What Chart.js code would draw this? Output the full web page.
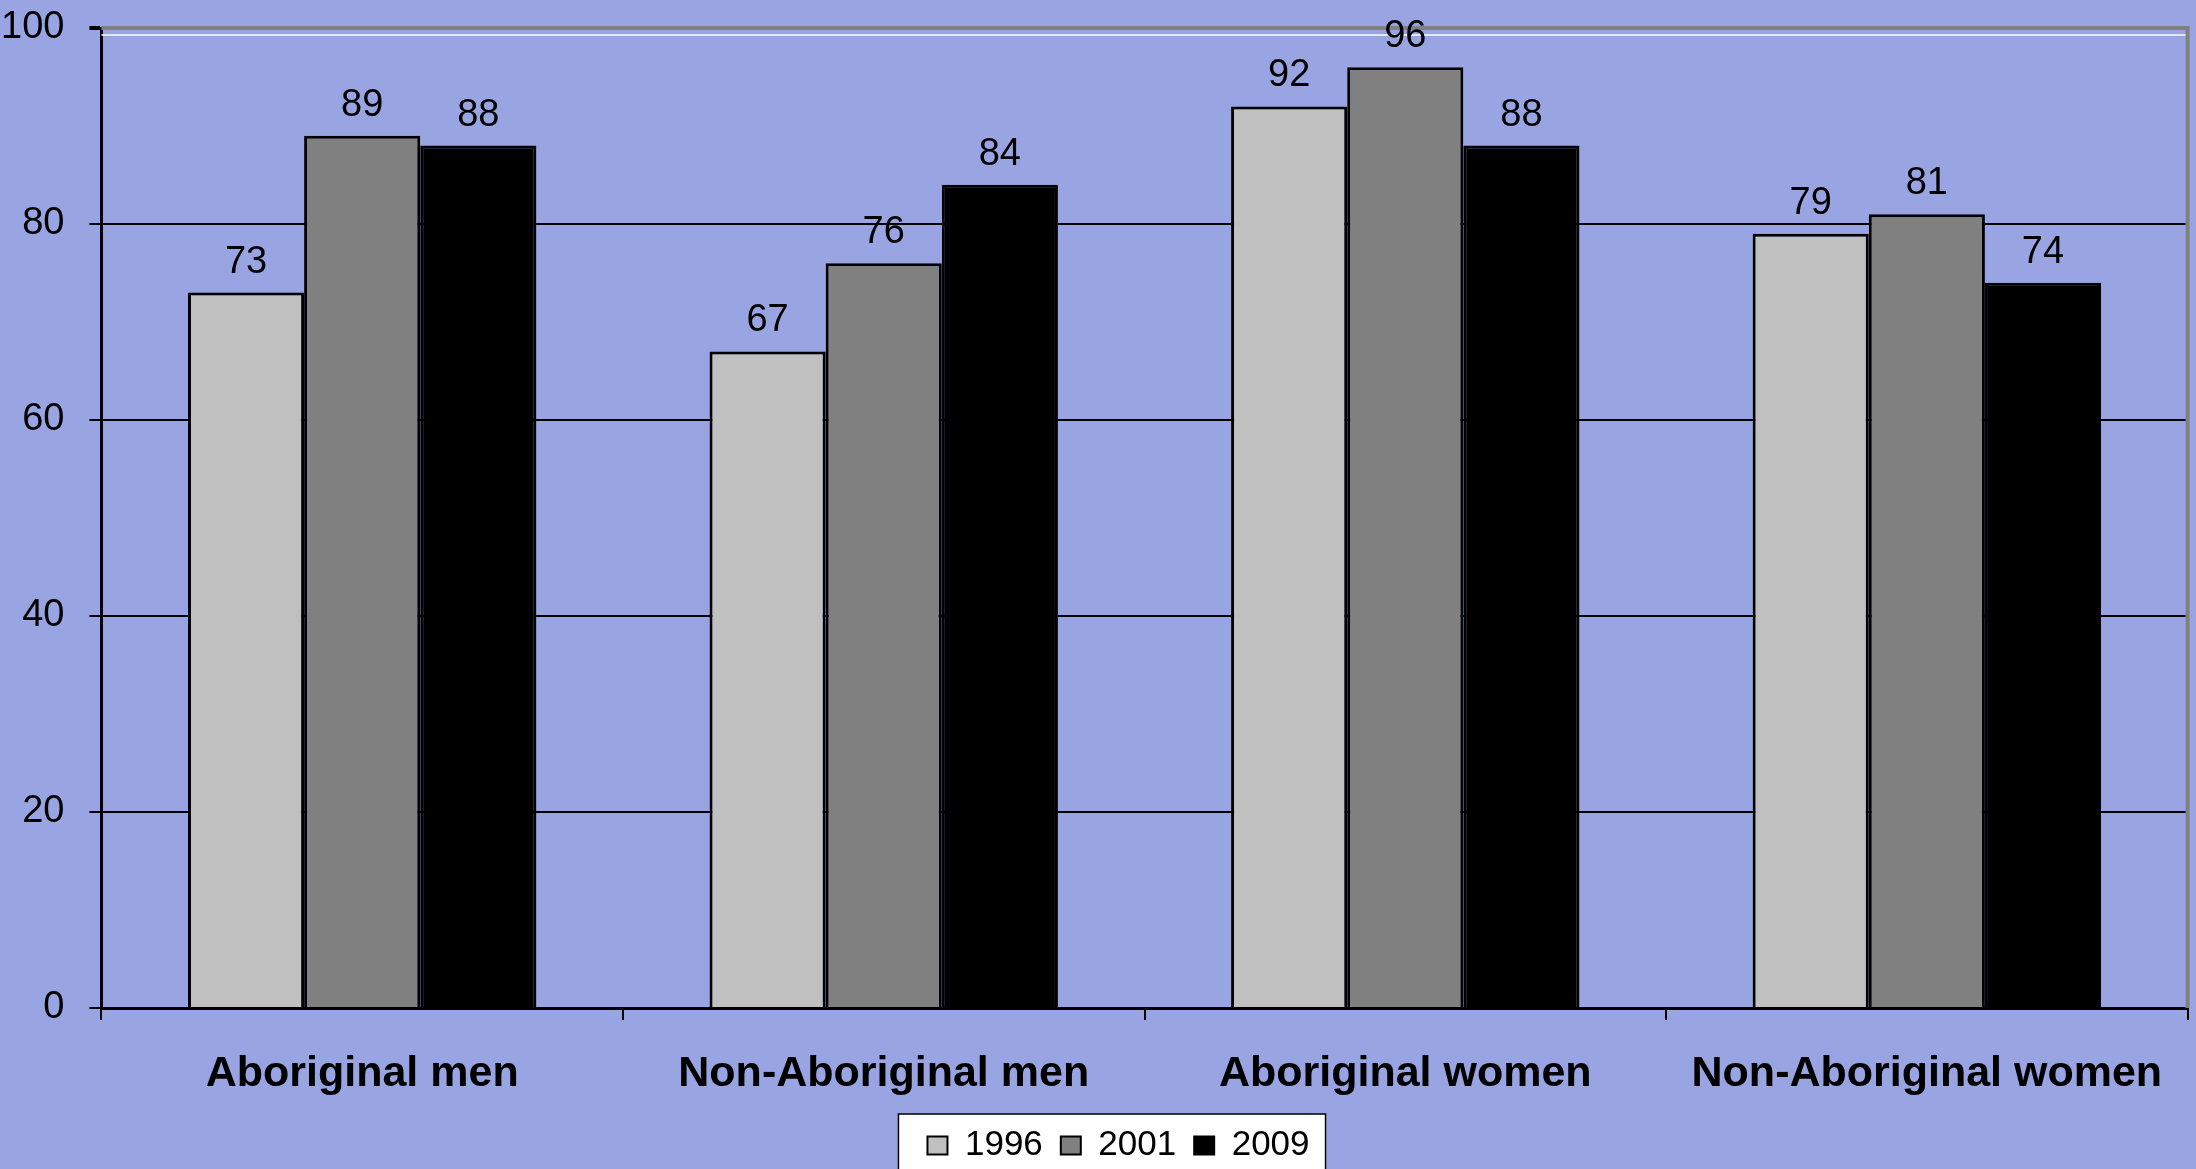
<!DOCTYPE html>
<html>
<head>
<meta charset="utf-8">
<script src="https://cdn.jsdelivr.net/npm/chart.js@4/dist/chart.umd.min.js"></script>
<style>
  html, body { margin: 0; padding: 0; background: #99a4e3; }
  #wrap { width: 2196px; height: 1169px; }
</style>
</head>
<body>
<div id="wrap"><canvas id="bars"></canvas></div>
<script>
const categories = ['Aboriginal men', 'Non-Aboriginal men', 'Aboriginal women', 'Non-Aboriginal women'];
const years = ['1996', '2001', '2009'];
const values1996 = [73, 67, 92, 79];
const values2001 = [89, 76, 96, 81];
const values2009 = [88, 84, 88, 74];
const yTicks = [0, 20, 40, 60, 80, 100];

const BG = '#99a4e3';
const FONT = 'Arial, "Liberation Sans", sans-serif';

// background, legend box and plot border
const frame = {
    id: 'frame',
    afterLayout(chart) {
        // legend sits a bit right of centre and tight under the labels in the original
        chart.legend.left += 36
        chart.legend.right += 36
        chart.legend.top -= 19
        chart.legend.bottom -= 19
    },
    beforeDraw(chart) {
        const { ctx, width, height } = chart
        ctx.save()
        ctx.fillStyle = BG
        ctx.fillRect(0, 0, width, height)
        const boxes = chart.legend.legendHitBoxes
        if (boxes && boxes.length) {
            const first = boxes[0], last = boxes[boxes.length - 1]
            const x0 = first.left - 29, x1 = last.left + last.width + 16
            const y0 = first.top - 14
            ctx.fillStyle = '#ffffff'
            ctx.fillRect(x0, y0, x1 - x0, height - y0 + 10)
            ctx.strokeStyle = '#000'
            ctx.lineWidth = 1.5
            ctx.strokeRect(x0, y0, x1 - x0, height - y0 + 10)
        }
        ctx.restore()
    },
    beforeDatasetsDraw(chart) {
        const { ctx, chartArea: { top, bottom, left, right } } = chart
        ctx.save()
        ctx.strokeStyle = '#ffffff'
        ctx.lineWidth = 1.5
        ctx.beginPath()
        ctx.moveTo(left, top + 7)
        ctx.lineTo(right, top + 7)
        ctx.stroke()
        ctx.strokeStyle = '#808080'
        ctx.lineWidth = 4
        ctx.beginPath()
        ctx.moveTo(left, top)
        ctx.lineTo(right, top)
        ctx.lineTo(right, bottom)
        ctx.stroke()
        ctx.restore()
    }
}

// value above each bar
const barValues = {
    id: 'barValues',
    afterDatasetsDraw(chart) {
        const { ctx } = chart
        ctx.save()
        ctx.font = '38px ' + FONT
        ctx.fillStyle = '#000'
        ctx.textAlign = 'center'
        ctx.textBaseline = 'alphabetic'
        chart.data.datasets.forEach((dataset, i) => {
            chart.getDatasetMeta(i).data.forEach((bar, index) => {
                ctx.fillText(dataset.data[index], bar.x, bar.y - 20)
            })
        })
        ctx.restore()
    }
}

const colors = ['#c0c0c0', '#808080', '#000000'];

new Chart(document.getElementById('bars'), {
    type: 'bar',
    data: {
        labels: categories,
        datasets: [values1996, values2001, values2009].map((vals, i) => ({
            label: years[i],
            data: vals,
            backgroundColor: colors[i],
            borderColor: '#000',
            borderWidth: 3,
            borderSkipped: 'bottom',
            categoryPercentage: 0.668,
            barPercentage: 1.0,
        })),
    },
    options: {
        responsive: true,
        maintainAspectRatio: false,
        animation: false,
        layout: {
            padding: { top: 28, right: 7, left: -24, bottom: -23 }
        },
        plugins: {
            tooltip: { enabled: false },
            legend: {
                position: 'bottom',
                labels: {
                    color: '#000',
                    font: { family: FONT, size: 35 },
                    boxWidth: 20,
                    boxHeight: 18,
                    padding: 18,
                    generateLabels(chart) {
                        return Chart.defaults.plugins.legend.labels.generateLabels(chart).map(l => {
                            l.lineWidth = 2
                            return l
                        })
                    }
                }
            }
        },
        scales: {
            x: {
                offset: true,
                grid: {
                    drawOnChartArea: false,
                    drawTicks: true,
                    tickLength: 12,
                    color: '#000',
                    lineWidth: 2,
                    offset: true
                },
                border: { color: '#000', width: 3 },
                ticks: {
                    color: '#000',
                    font: { family: FONT, size: 43, weight: 'bold', lineHeight: 1.0 },
                    padding: 33,
                    maxRotation: 0,
                    autoSkip: false
                }
            },
            y: {
                min: 0,
                max: 100,
                afterBuildTicks(scale) {
                    scale.ticks = yTicks.map(v => ({ value: v }))
                },
                afterFit(scale) {
                    scale.paddingTop = 0
                },
                grid: {
                    color: c => (c.tick && c.tick.value === 100) ? '#808080' : '#000',
                    lineWidth: c => (c.tick && c.tick.value === 100) ? 4 : 2,
                    tickColor: '#000',
                    tickLength: 12
                },
                border: { color: '#000', width: 3 },
                ticks: {
                    color: '#000',
                    font: { family: FONT, size: 38 },
                    padding: 25
                }
            }
        }
    },
    plugins: [frame, barValues]
});
</script>
</body>
</html>
